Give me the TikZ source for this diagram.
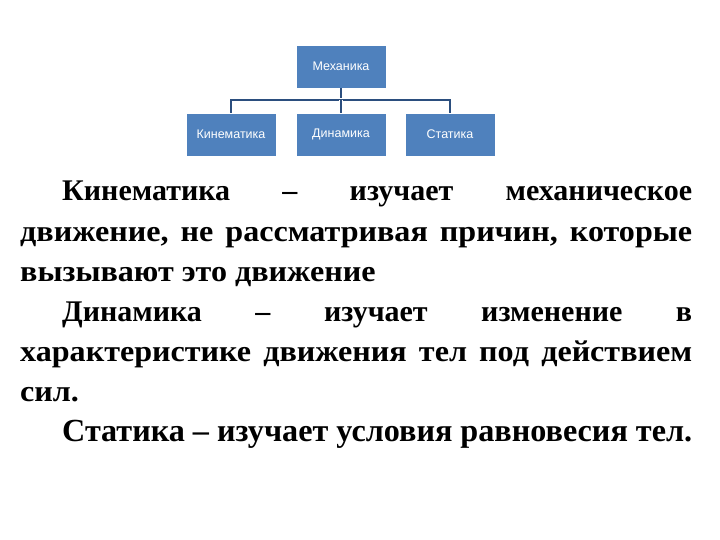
\documentclass[tikz,border=0pt]{standalone}
\usepackage{fontspec}
\setmainfont{Liberation Serif}
\newfontfamily\boxfont{Liberation Sans}
\begin{document}
\begin{tikzpicture}[x=1pt,y=-1pt,
  bx/.style={fill=boxblue,draw=white,line width=0.8pt,minimum width=90pt,minimum height=43pt,inner sep=0pt,text=white,font=\boxfont\fontsize{12.5}{14}\selectfont},
  conn/.style={draw=white,line width=3.5pt,postaction={draw=linkblue,line width=1.8pt}},
  ln/.style={anchor=base west,inner sep=0pt,font=\bfseries\fontsize{30}{34}\selectfont}]
\definecolor{boxblue}{HTML}{4F81BD}
\definecolor{linkblue}{HTML}{2B4E7E}
\useasboundingbox (0,0) rectangle (720,540);
\node[bx] (m) at (341,66.5) {Механика};
\node[bx] (k) at (231,134.5) {Кинематика};
\node[bx] (d) at (341,134.5) {Динамика};
\node[bx] (s) at (450,134.5) {Статика};
\coordinate (j) at (341,100);
\draw[conn] (m.south) -- (j);
\draw[conn] (k.north) |- (j) -| (s.north);
\draw[conn] (j) -- (d.north);
\node[ln] (l1) at (62,201) {\makebox[630pt][s]{Кинематика – изучает механическое}};
\node[ln] (l2) at (20,241) {\makebox[672pt][s]{\scalebox{1.07}[1]{движение,} \scalebox{1.07}[1]{не} \scalebox{1.07}[1]{рассматривая} \scalebox{1.07}[1]{причин,} \scalebox{1.07}[1]{которые}}};
\node[ln] (l3) at (20,281) {\scalebox{1.07}[1]{вызывают это движение}};
\node[ln] (l4) at (62,321) {\makebox[630pt][s]{Динамика – изучает изменение в}};
\node[ln] (l5) at (20,361) {\makebox[672pt][s]{\scalebox{1.07}[1]{характеристике} \scalebox{1.07}[1]{движения} \scalebox{1.07}[1]{тел} \scalebox{1.07}[1]{под} \scalebox{1.07}[1]{действием}}};
\node[ln] (l6) at (20,401) {\scalebox{1.07}[1]{сил.}};
\node[ln] (l7) at (62,441) {\resizebox{630pt}{!}{Статика – изучает условия равновесия тел.}};
\end{tikzpicture}
\end{document}
